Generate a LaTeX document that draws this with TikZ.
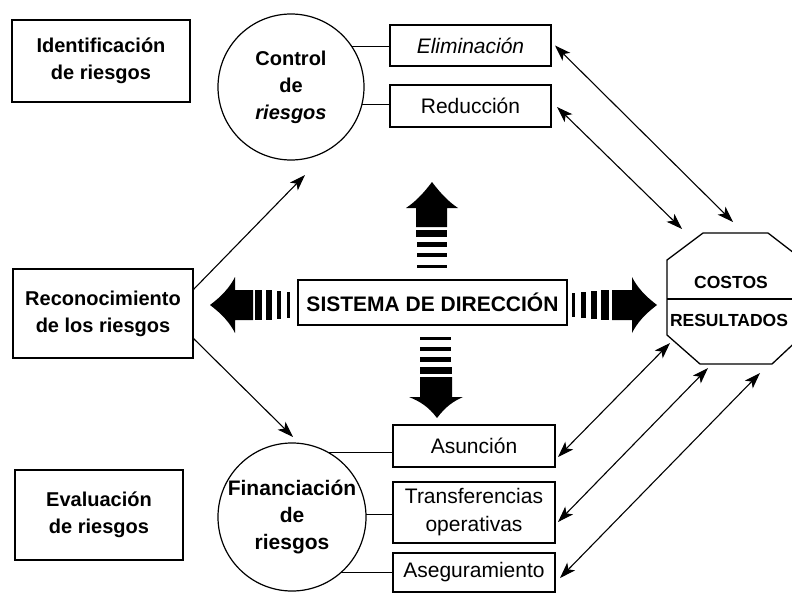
\documentclass[tikz,border=0pt]{standalone}
\usepackage{fontspec}
\setmainfont{Liberation Sans}
\usetikzlibrary{arrows.meta,calc}

\begin{document}
\begin{tikzpicture}[x=1pt,y=-1pt,
  every node/.style={inner sep=0pt, outer sep=0pt},
  bigfont/.style={font=\fontsize{20}{27}\selectfont\bfseries},
  smallfont/.style={font=\fontsize{21}{28}\selectfont},
  framebox/.style={draw, line width=1.3pt, align=center},
  roundbox/.style={draw, circle, line width=1.2pt, align=center, bigfont},
  link/.style={line width=1.1pt},
  head/.style={line width=1.1pt, -{Stealth[length=16pt,width=11pt,inset=4pt]}},
  twohead/.style={line width=1.1pt, {Stealth[length=16pt,width=11pt,inset=4pt]}-{Stealth[length=16pt,width=11pt,inset=4pt]}},
  solid black/.style={fill=black, draw=none},
]
\useasboundingbox (0,0) rectangle (792,594);
\clip (0,0) rectangle (792,594);

% left column
\node[framebox, bigfont, minimum width=178pt, minimum height=82pt] (ident) at (101,61) {Identificación\\de riesgos};
\node[framebox, bigfont, minimum width=180pt, minimum height=89pt] (recon) at (103,313.5) {Reconocimiento\\de los riesgos};
\node[framebox, bigfont, minimum width=168pt, minimum height=90pt] (evalu) at (99,515) {Evaluación\\de riesgos};

% circles
\node[roundbox, minimum size=146pt] (ctrl) at (291,87) {Control\\de\\\textit{riesgos}};
\node[roundbox, minimum size=148pt, font=\fontsize{21}{27}\selectfont\bfseries] (fin) at (292,517) {Financiación\\de\\riesgos};

% option boxes
\node[framebox, smallfont, minimum width=161pt, minimum height=41pt] (elim) at (470.5,45.5) {\textit{Eliminación}};
\node[framebox, smallfont, minimum width=161pt, minimum height=42pt] (redu) at (470.5,106) {Reducción};
\node[framebox, smallfont, minimum width=162pt, minimum height=42pt] (asun) at (474,446) {Asunción};
\node[framebox, smallfont, minimum width=162pt, minimum height=61pt] (trans) at (474,512.5) {Transferencias\\operativas};
\node[framebox, smallfont, minimum width=162pt, minimum height=39pt] (aseg) at (474,572.5) {Aseguramiento};

% central box
\node[framebox, font=\fontsize{21}{26}\selectfont\bfseries, minimum width=269pt, minimum height=45pt] (sis) at (432.5,302.5) {SISTEMA DE DIRECCIÓN};

% octagon
\draw[line width=1.3pt] (703,233) -- (768,233) -- (803,260) -- (803,335) -- (772,364)
  -- (700,364) -- (667,335) -- (667,260) -- cycle;
\draw[line width=1.3pt] (667,299) -- (803,299);
\node[font=\fontsize{17.5}{22}\selectfont\bfseries] (costos) at (731,282) {COSTOS};
\node[font=\fontsize{17.5}{22}\selectfont\bfseries, anchor=west] (result) at (670,320) {RESULTADOS};

% circle to option links
\draw[link] (ctrl.34) -- (ctrl.34 -| elim.west);
\draw[link] (ctrl.-14) -- (ctrl.-14 -| redu.west);
\draw[link] (fin.61) -- (fin.61 -| asun.west);
\draw[link] (fin.2) -- (fin.2 -| trans.west);
\draw[link] (fin.-49) -- (fin.-49 -| aseg.west);

% recognition arrows
\coordinate (ctrlIn) at (305,175);
\coordinate (finIn) at (293,437);
\draw[head] ($(recon.north east)+(0,21)$) -- (ctrlIn);
\draw[head] ($(recon.north east)+(0,69)$) -- (finIn);

% octagon double arrows
\coordinate (oA) at (733,222);
\coordinate (oB) at (682,229);
\coordinate (oC) at (670,343);
\coordinate (oD) at (708,368);
\coordinate (oE) at (760,373);
\draw[twohead] ($(elim.east)+(4,0)$) -- (oA);
\draw[twohead] ($(redu.east)+(6,1)$) -- (oB);
\draw[twohead] ($(asun.east)+(3,11)$) -- (oC);
\draw[twohead] ($(trans.east)+(3,9.5)$) -- (oD);
\draw[twohead] ($(aseg.east)+(5,5.5)$) -- (oE);

% big striped arrows of the management system
% left
\fill[solid black] (210,305) .. controls (222,296) and (230,287) .. (235,277) -- (235,290) -- (253,290)
  -- (253,320) -- (235,320) -- (235,333) .. controls (230,323) and (222,314) .. cycle;
\fill[solid black] (255,290) rectangle (262,320);
\fill[solid black] (266,290) rectangle (272,320);
\fill[solid black] (277,291) rectangle (281,319);
\fill[solid black] (287,292) rectangle (290,318);
% right
\fill[solid black] (657,305) .. controls (645,296) and (637,287) .. (632,277) -- (632,290) -- (612,290)
  -- (612,320) -- (632,320) -- (632,333) .. controls (637,323) and (645,314) .. cycle;
\fill[solid black] (572,293) rectangle (575,317);
\fill[solid black] (581,292) rectangle (586,318);
\fill[solid black] (591,291) rectangle (597,319);
\fill[solid black] (601,290) rectangle (609,320);
% up
\fill[solid black] (432,182) .. controls (423,194) and (415,202) .. (406,208) -- (416,208) -- (416,227)
  -- (447,227) -- (447,208) -- (458,208) .. controls (449,202) and (441,194) .. cycle;
\fill[solid black] (416,230) rectangle (447,237);
\fill[solid black] (417,242) rectangle (447,247);
\fill[solid black] (417,253) rectangle (447,257);
\fill[solid black] (417,265) rectangle (447,268);
% down
\fill[solid black] (437,418) .. controls (428,406) and (419,401) .. (409,397) -- (420,397) -- (420,377)
  -- (452,377) -- (452,397) -- (463,397) .. controls (454,401) and (446,406) .. cycle;
\fill[solid black] (420,337) rectangle (451,340);
\fill[solid black] (420,347) rectangle (451,351);
\fill[solid black] (420,357) rectangle (451,362);
\fill[solid black] (420,367) rectangle (452,374);
\end{tikzpicture}
\end{document}
